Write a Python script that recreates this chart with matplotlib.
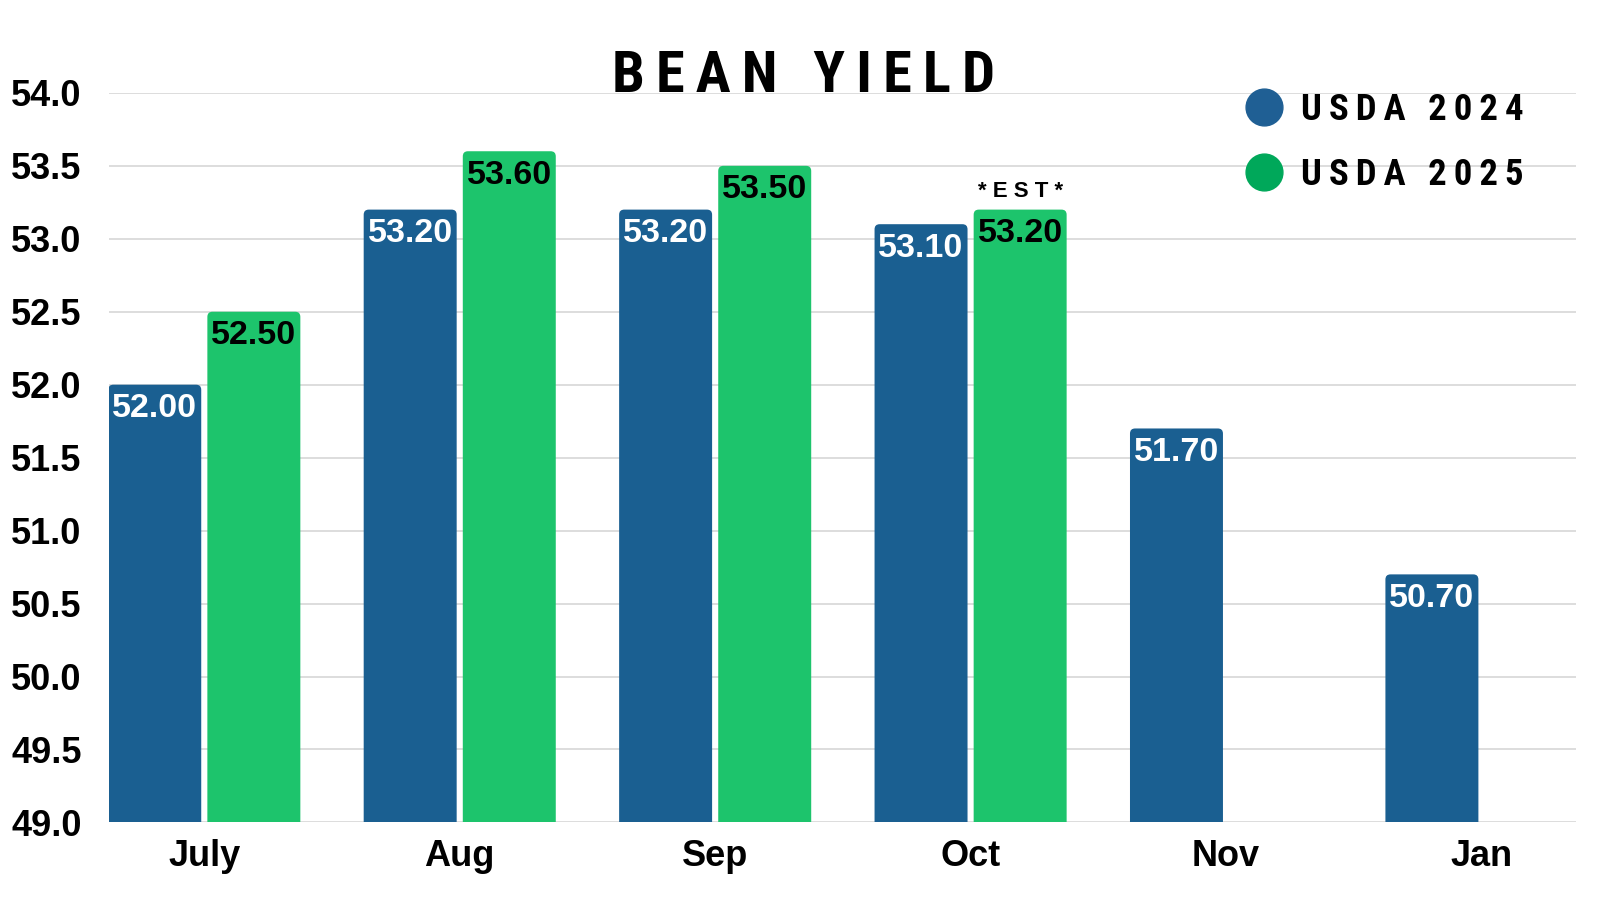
import numpy as np
import matplotlib.pyplot as plt
from matplotlib.patches import FancyBboxPatch
from matplotlib.lines import Line2D

# data
months = ["July", "Aug", "Sep", "Oct", "Nov", "Jan"]
usda_2024 = [52.0, 53.2, 53.2, 53.1, 51.7, 50.7]
usda_2025 = [52.5, 53.6, 53.5, 53.2, np.nan, np.nan]
series_names = ["USDA 2024", "USDA 2025"]
title = "BEAN YIELD"
est_month = "Oct"

blue = "#1A5F91"
green = "#1DC46C"
legend_blue = "#1F5F94"
legend_green = "#00A85A"

num_font = ["Liberation Sans", "DejaVu Sans"]
cond_font = ["Roboto Condensed", "DejaVu Sans"]


def spaced(s):
    # wide letter spacing, like the original's display font
    return "\u2009 \u2009".join("\u2009".join(word) for word in s.split())


fig = plt.figure(figsize=(16, 9), dpi=100)
ax = fig.add_axes([0.0683, 0.0862, 0.917, 0.8106])

x = np.arange(len(months))
w = 0.364
off = 0.194

b1 = ax.bar(x - off, usda_2024, w, color=blue)
b2 = ax.bar(x + off, usda_2025, w, color=green)

# swap plain bars for ones with rounded tops
for bars in (b1, b2):
    for b in bars:
        h = b.get_height()
        if np.isnan(h):
            continue
        p = FancyBboxPatch((b.get_x(), b.get_y()), b.get_width(), h,
                           boxstyle="round,pad=0,rounding_size=0.02",
                           mutation_aspect=1.75, facecolor=b.get_facecolor(),
                           edgecolor="none", zorder=2)
        ax.add_patch(p)
        b.set_visible(False)

# value labels inside the top of each bar
for xi, v in zip(x, usda_2024):
    ax.annotate(f"{v:.2f}", (xi - off, v), xytext=(0, -6), textcoords="offset points",
                ha="center", va="top", color="white", fontsize=24.5,
                fontweight="bold", family=num_font, zorder=3)
for xi, v in zip(x, usda_2025):
    if np.isnan(v):
        continue
    ax.annotate(f"{v:.2f}", (xi + off, v), xytext=(0, -6), textcoords="offset points",
                ha="center", va="top", color="black", fontsize=24.5,
                fontweight="bold", family=num_font, zorder=3)

# estimate marker above October 2025
i = months.index(est_month)
ax.annotate("* E S T *", (x[i] + off, usda_2025[i]), xytext=(0, 5.5),
            textcoords="offset points", ha="center", va="bottom",
            fontsize=16, fontweight="bold", family=num_font)

ax.set_xlim(-0.372, len(months) - 1 + 0.372)
ax.set_ylim(49, 54)
ax.set_yticks(np.arange(49, 54.01, 0.5))
ax.set_yticklabels([f"{t:.1f}" for t in np.arange(49, 54.01, 0.5)])
ax.set_xticks(x)
ax.set_xticklabels(months)
for lab in ax.get_xticklabels() + ax.get_yticklabels():
    lab.set_fontsize(26)
    lab.set_fontweight("bold")
    lab.set_family(num_font)
ax.tick_params(axis="y", length=0, pad=20)
ax.tick_params(axis="x", length=0, pad=12)
ax.grid(axis="y", color="#DDDDDD", lw=1.4, zorder=0)
ax.set_axisbelow(True)
for s in ax.spines.values():
    s.set_visible(False)

fig.text(0.502, 0.898, spaced(title), ha="center", va="baseline",
         fontsize=42, fontweight="bold", family=cond_font)

handles = [Line2D([], [], marker="o", ls="none", markersize=26.5, color=c)
           for c in (legend_blue, legend_green)]
leg = fig.legend(handles, [spaced(n) for n in series_names],
                 loc="upper left", bbox_to_anchor=(0.758, 0.935), frameon=False,
                 handletextpad=0.5, labelspacing=0.8, handlelength=1.0,
                 prop={"family": cond_font, "weight": "bold", "size": 26.5})

fig.savefig("out.png", dpi=100, facecolor="white")
